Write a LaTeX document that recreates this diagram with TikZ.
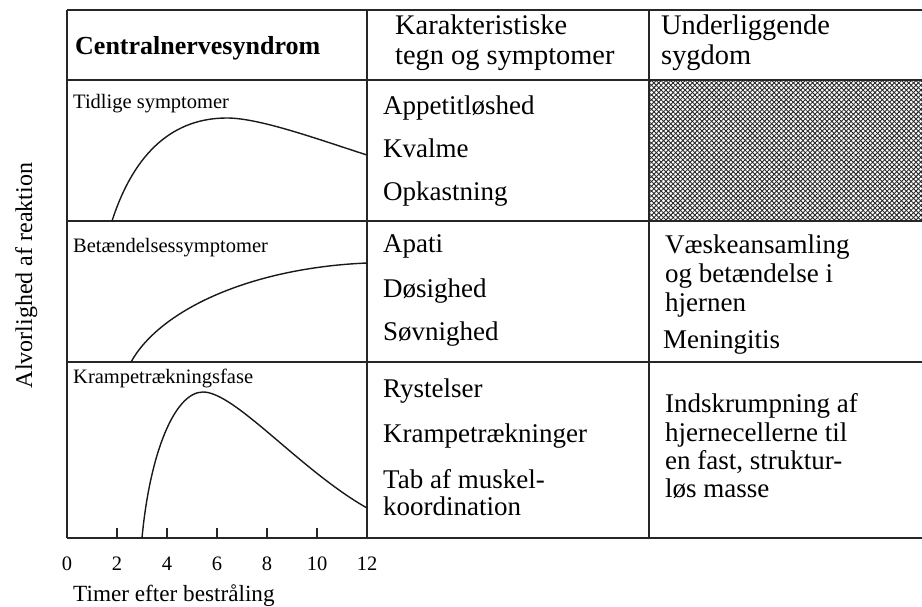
\documentclass[tikz,border=0pt]{standalone}
\usepackage{fontspec}
\setmainfont{Liberation Serif}
\usetikzlibrary{patterns.meta}
\tikzset{
  grid/.style={line width=1.3pt, draw=black!85},
  curve/.style={line width=1.4pt, black!90},
  body/.style={anchor=base west, inner sep=0pt, font=\fontsize{27}{28.5}\selectfont},
  head/.style={anchor=base west, inner sep=0pt, font=\fontsize{28.4}{30}\selectfont},
  small/.style={anchor=base west, inner sep=0pt, font=\fontsize{20.5}{22}\selectfont},
  ticklab/.style={anchor=base, inner sep=0pt, font=\fontsize{20.5}{22}\selectfont},
  tickmark/.style={line width=1.1pt, draw=black!85}
}
\begin{document}
\begin{tikzpicture}[x=1pt,y=-1pt]
\useasboundingbox (0,0) rectangle (922,607);
% hatched cell
\fill[pattern={Lines[angle=45,distance=3.4pt,line width=0.9pt]},pattern color=black!85] (650,81) rectangle (922,220);
\fill[pattern={Lines[angle=-45,distance=3.4pt,line width=0.9pt]},pattern color=black!85] (650,81) rectangle (922,220);
% table lines
\draw[grid] (67,10) -- (922,10);
\draw[grid] (67,80) -- (922,80);
\draw[grid] (67,221) -- (922,221);
\draw[grid] (67,362) -- (922,362);
\draw[grid] (67,538) -- (922,538);
\draw[grid] (67,10) -- (67,538);
\draw[grid] (367,10) -- (367,538);
\draw[grid] (649,10) -- (649,538);
% ticks
\foreach \t/\xx in {2/117,4/167,6/217,8/267,10/317}{
  \draw[tickmark] (\xx,528) -- (\xx,538);
}
\foreach \t/\xx in {0/67,2/117,4/167,6/217,8/267,10/317,12/367}{
  \node[ticklab] (t\t) at (\xx,570) {\t};
}
\node[anchor=base west, inner sep=0pt, font=\fontsize{23.2}{25}\selectfont] (xlab) at (73,601) {Timer efter bestråling};
\node[anchor=base, inner sep=0pt, rotate=90, font=\fontsize{24}{26}\selectfont] (ylab) at (32,275.5) {Alvorlighed af reaktion};
% header
\node[anchor=base west, inner sep=0pt, font=\fontsize{26}{28}\selectfont\bfseries] (h1) at (75,55) {Centralnervesyndrom};
\node[head] (h2a) at (395,35) {Karakteristiske};
\node[head] (h2b) at (395,65) {tegn og symptomer};
\node[head] (h3a) at (661,35) {Underliggende};
\node[head] (h3b) at (661,65) {sygdom};
% row labels
\node[small] (r1) at (73,109) {Tidlige symptomer};
\node[small] (r2) at (73,253) {Betændelsessymptomer};
\node[small] (r3) at (73,383) {Krampetrækningsfase};
% column 2
\node[body] (a1) at (383,115) {Appetitløshed};
\node[body] (a2) at (383,158) {Kvalme};
\node[body] (a3) at (383,201) {Opkastning};
\node[body] (b1) at (383,253) {Apati};
\node[body] (b2) at (383,297) {Døsighed};
\node[body] (b3) at (383,340) {Søvnighed};
\node[body] (c1) at (383,397) {Rystelser};
\node[body] (c2) at (383,442) {Krampetrækninger};
\node[body] (c3) at (383,488) {Tab af muskel-};
\node[body] (c4) at (383,515) {koordination};
% column 3
\node[body] (d1) at (665,254) {Væskeansamling};
\node[body] (d2) at (665,283) {og betændelse i};
\node[body] (d3) at (665,311) {hjernen};
\node[body] (d4) at (663,348) {Meningitis};
\node[body] (e1) at (665,412) {Indskrumpning af};
\node[body] (e2) at (665,441) {hjernecellerne til};
\node[body] (e3) at (665,469) {en fast, struktur-};
\node[body] (e4) at (665,497) {løs masse};
% curves
\coordinate (s1) at (112,221); \coordinate (p1) at (227,118); \coordinate (e1c) at (367,155);
\coordinate (s2) at (131,362); \coordinate (e2c) at (367,263);
\coordinate (s3) at (142,538); \coordinate (p3) at (203,392); \coordinate (e3c) at (367,508);
\draw[curve] (s1) .. controls (135,150) and (175,118) .. (p1) .. controls (260,118) and (320,140) .. (e1c);
\draw[curve] (s2) .. controls (160,310) and (250,268) .. (e2c);
\draw[curve] (s3) .. controls (150,452) and (175,392) .. (p3) .. controls (235,392) and (300,470) .. (e3c);
\end{tikzpicture}
\end{document}
